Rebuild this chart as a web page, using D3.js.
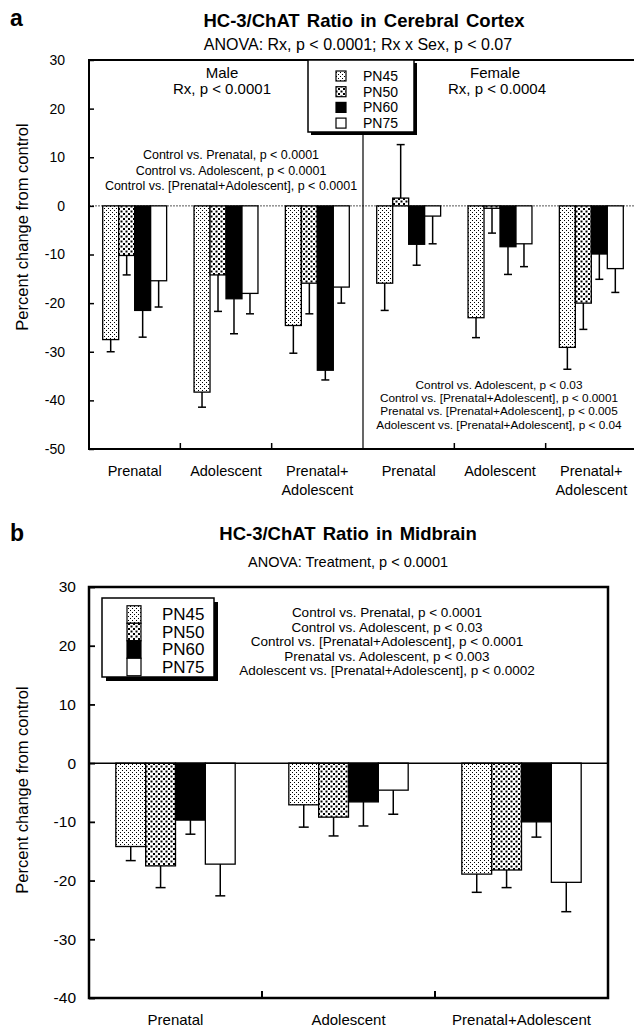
<!DOCTYPE html>
<html>
<head>
<meta charset="utf-8">
<script src="https://cdn.jsdelivr.net/npm/d3@7"></script>
<style>
body { margin: 0; background: #fff; }
text { font-family: "Liberation Sans", Arial, Helvetica, sans-serif; fill: #000; }
</style>
</head>
<body>
<div id="chart"></div>
<script>
// Data (percent change from control)
var series = ["PN45", "PN50", "PN60", "PN75"];
var treatments = ["Prenatal", "Adolescent", "Prenatal+Adolescent"];
var sexes = ["Male", "Female"];

// rows = treatment, columns = series
var cortexMale = [[-27.5, -10.2, -21.5, -15.4], [-38.3, -14.2, -19.1, -18.0], [-24.6, -15.9, -33.8, -16.7]];
var cortexMaleErr = [[2.5, 4.0, 5.5, 5.4], [3.1, 7.5, 7.2, 4.2], [5.7, 6.3, 2.0, 3.3]];
var cortexFemale = [[-15.9, 1.6, -7.9, -2.1], [-23.0, -0.5, -8.4, -7.8], [-29.1, -20.0, -9.9, -12.9]];
var cortexFemaleErr = [[5.6, 11.0, 4.3, 5.7], [4.1, 5.1, 5.7, 4.7], [4.5, 5.4, 5.2, 4.9]];

var midbrain = [[-14.2, -17.5, -9.7, -17.2], [-7.1, -9.2, -6.6, -4.6], [-18.9, -18.2, -10.0, -20.3]];
var midbrainErr = [[2.4, 3.7, 2.4, 5.4], [3.8, 3.2, 4.1, 4.1], [3.1, 3.0, 2.6, 5.0]];

var ticksA = [30, 20, 10, 0, -10, -20, -30, -40, -50];
var ticksB = [30, 20, 10, 0, -10, -20, -30, -40];

var statsMale = ["Control vs. Prenatal, p < 0.0001", "Control vs. Adolescent, p < 0.0001", "Control vs. [Prenatal+Adolescent], p < 0.0001"];
var statsFemale = ["Control vs. Adolescent, p < 0.03", "Control vs. [Prenatal+Adolescent], p < 0.0001", "Prenatal vs. [Prenatal+Adolescent], p < 0.005", "Adolescent vs. [Prenatal+Adolescent], p < 0.04"];
var statsMid = ["Control vs. Prenatal, p < 0.0001", "Control vs. Adolescent, p < 0.03", "Control vs. [Prenatal+Adolescent], p < 0.0001", "Prenatal vs. Adolescent, p < 0.003", "Adolescent vs. [Prenatal+Adolescent], p < 0.0002"];

var svg = d3.select("#chart").append("svg")
  .attr("width", 634)
  .attr("height", 1029);

// fill patterns
var defs = svg.append("defs");
var p45 = defs.append("pattern").attr("id", "pn45").attr("patternUnits", "userSpaceOnUse")
  .attr("width", 4).attr("height", 4);
p45.append("rect").attr("width", 4).attr("height", 4).attr("fill", "#fff");
p45.append("rect").attr("x", 0).attr("y", 0).attr("width", 1).attr("height", 1).attr("fill", "#000");
p45.append("rect").attr("x", 2).attr("y", 2).attr("width", 1).attr("height", 1).attr("fill", "#000");

var p50 = defs.append("pattern").attr("id", "pn50").attr("patternUnits", "userSpaceOnUse")
  .attr("width", 5).attr("height", 5);
p50.append("rect").attr("width", 5).attr("height", 5).attr("fill", "#fff");
p50.append("rect").attr("x", 0.5).attr("y", 0.5).attr("width", 2).attr("height", 2).attr("fill", "#000");
p50.append("rect").attr("x", 3).attr("y", 3).attr("width", 2).attr("height", 2).attr("fill", "#000");

var fillFor = {PN45: "url(#pn45)", PN50: "url(#pn50)", PN60: "#000", PN75: "#fff"};

function drawBars(g, data, x0, x1, y, capW) {
  g.append("g").selectAll("rect")
    .data(data)
    .enter()
    .append("rect")
    .attr("x", d => x0(d.key) + x1(d.series))
    .attr("width", x1.bandwidth())
    .attr("y", d => y(Math.max(0, d.value)))
    .attr("height", d => Math.abs(y(d.value) - y(0)))
    .attr("fill", d => fillFor[d.series])
    .attr("stroke", "#000")
    .attr("stroke-width", 1.3);

  var err = g.append("g").selectAll("g")
    .data(data)
    .enter()
    .append("g")
    .attr("stroke", "#000")
    .attr("stroke-width", 1.5);
  err.append("line")
    .attr("x1", d => x0(d.key) + x1(d.series) + x1.bandwidth() / 2)
    .attr("x2", d => x0(d.key) + x1(d.series) + x1.bandwidth() / 2)
    .attr("y1", d => y(d.value))
    .attr("y2", d => y(d.value + (d.value < 0 ? -d.err : d.err)));
  err.append("line")
    .attr("x1", d => x0(d.key) + x1(d.series) + x1.bandwidth() / 2 - capW / 2)
    .attr("x2", d => x0(d.key) + x1(d.series) + x1.bandwidth() / 2 + capW / 2)
    .attr("y1", d => y(d.value + (d.value < 0 ? -d.err : d.err)))
    .attr("y2", d => y(d.value + (d.value < 0 ? -d.err : d.err)));
}

function drawLegend(g, x, y, w, h, shadow, sw, sh, swX, labX, rowH, fontSize, stacked) {
  g.append("rect").attr("x", x + shadow).attr("y", y + shadow).attr("width", w).attr("height", h).attr("fill", "#000");
  g.append("rect").attr("x", x).attr("y", y).attr("width", w).attr("height", h)
    .attr("fill", "#fff").attr("stroke", "#000").attr("stroke-width", 1.5);
  series.forEach(function(s, i) {
    var cy = y + rowH[0] + i * rowH[1];
    g.append("rect")
      .attr("x", swX).attr("y", stacked ? cy - rowH[1] / 2 : cy - sh / 2)
      .attr("width", sw).attr("height", stacked ? rowH[1] : sh)
      .attr("fill", fillFor[s]).attr("stroke", "#000").attr("stroke-width", 1.2);
    g.append("text").attr("x", labX).attr("y", cy).attr("dy", "0.35em")
      .attr("font-size", fontSize).text(s);
  });
}

// ---------- Panel a: Cerebral Cortex ----------
var gA = svg.append("g");
var keysA = [];
sexes.forEach(s => treatments.forEach(t => keysA.push(s + "|" + t)));

var yA = d3.scaleLinear().domain([-50, 30]).range([449, 60]);
var xA = d3.scaleBand().domain(keysA).range([89, 637]).paddingInner(0.3).paddingOuter(0.15);
var xsA = d3.scaleBand().domain(series).range([0, xA.bandwidth()]);

var dataA = [];
treatments.forEach(function(t, i) {
  series.forEach(function(s, j) {
    dataA.push({key: "Male|" + t, series: s, value: cortexMale[i][j], err: cortexMaleErr[i][j]});
    dataA.push({key: "Female|" + t, series: s, value: cortexFemale[i][j], err: cortexFemaleErr[i][j]});
  });
});

gA.append("text").attr("x", 10).attr("y", 26).attr("font-size", 23).attr("font-weight", "bold").text("a");
gA.append("text").attr("x", 364).attr("y", 27).attr("text-anchor", "middle")
  .attr("font-size", 18.5).attr("font-weight", "bold").attr("word-spacing", 2)
  .text("HC-3/ChAT Ratio in Cerebral Cortex");
gA.append("text").attr("x", 358).attr("y", 50).attr("text-anchor", "middle")
  .attr("font-size", 16).text("ANOVA: Rx, p < 0.0001; Rx x Sex, p < 0.07");

// zero line
gA.append("line").attr("x1", 89).attr("x2", 637).attr("y1", yA(0)).attr("y2", yA(0))
  .attr("stroke", "#555").attr("stroke-width", 1).attr("stroke-dasharray", "2,1");

drawBars(gA, dataA, xA, xsA, yA, 8);

// divider between sexes
var divX = xA("Female|Prenatal") - xA.step() * 0.15;
gA.append("line").attr("x1", divX).attr("x2", divX).attr("y1", 60).attr("y2", 449)
  .attr("stroke", "#000").attr("stroke-width", 1.2);

// frame
gA.append("rect").attr("x", 89).attr("y", 60).attr("width", 548).attr("height", 389)
  .attr("fill", "none").attr("stroke", "#000").attr("stroke-width", 2);

// y axis
var axA = gA.append("g").attr("transform", "translate(89,0)")
  .call(d3.axisLeft(yA).tickValues(ticksA).tickSize(-5).tickPadding(24).tickFormat(d => String(d)));
axA.select(".domain").remove();
axA.selectAll("line").attr("stroke-width", 1.5);
axA.selectAll("text").attr("font-size", 14).attr("font-family", null);

// bottom ticks between groups
[1, 2, 4, 5].forEach(function(i) {
  var bx = xA(keysA[i]) - xA.step() * 0.15;
  gA.append("line").attr("x1", bx).attr("x2", bx).attr("y1", 449).attr("y2", 443)
    .attr("stroke", "#000").attr("stroke-width", 1.5);
});

// x labels
keysA.forEach(function(k) {
  var t = k.split("|")[1];
  var lines = t === "Prenatal+Adolescent" ? ["Prenatal+", "Adolescent"] : [t];
  var txt = gA.append("text").attr("x", xA(k) + xA.bandwidth() / 2).attr("y", 476)
    .attr("text-anchor", "middle").attr("font-size", 14.5);
  lines.forEach(function(l, i) {
    txt.append("tspan").attr("x", xA(k) + xA.bandwidth() / 2).attr("dy", i ? 19 : 0).text(l);
  });
});

gA.append("text").attr("transform", "translate(28,227) rotate(-90)").attr("text-anchor", "middle")
  .attr("font-size", 16.5).text("Percent change from control");

// annotations
gA.append("text").attr("x", 222).attr("y", 78).attr("text-anchor", "middle").attr("font-size", 15).text("Male");
gA.append("text").attr("x", 222).attr("y", 94).attr("text-anchor", "middle").attr("font-size", 15).text("Rx, p < 0.0001");
gA.append("text").attr("x", 495).attr("y", 78).attr("text-anchor", "middle").attr("font-size", 15).text("Female");
gA.append("text").attr("x", 497).attr("y", 94).attr("text-anchor", "middle").attr("font-size", 15).text("Rx, p < 0.0004");
statsMale.forEach(function(s, i) {
  gA.append("text").attr("x", 231).attr("y", 159 + i * 15.5).attr("text-anchor", "middle")
    .attr("font-size", 12.5).text(s);
});
statsFemale.forEach(function(s, i) {
  gA.append("text").attr("x", 499).attr("y", 389 + i * 13.2).attr("text-anchor", "middle")
    .attr("font-size", 11.8).text(s);
});

drawLegend(gA, 308, 60, 106, 72, 3, 10, 10, 336, 363, [16, 15.7], 14, false);

// ---------- Panel b: Midbrain ----------
var gB = svg.append("g");
var yB = d3.scaleLinear().domain([-40, 30]).range([998, 587]);
var xB = d3.scaleBand().domain(treatments).range([89, 608]).paddingInner(0.31).paddingOuter(0.155);
var xsB = d3.scaleBand().domain(series).range([0, xB.bandwidth()]);

var dataB = [];
treatments.forEach(function(t, i) {
  series.forEach(function(s, j) {
    dataB.push({key: t, series: s, value: midbrain[i][j], err: midbrainErr[i][j]});
  });
});

gB.append("text").attr("x", 10).attr("y", 541).attr("font-size", 23).attr("font-weight", "bold").text("b");
gB.append("text").attr("x", 348).attr("y", 540).attr("text-anchor", "middle")
  .attr("font-size", 18.5).attr("font-weight", "bold").attr("word-spacing", 2)
  .text("HC-3/ChAT Ratio in Midbrain");
gB.append("text").attr("x", 348).attr("y", 567).attr("text-anchor", "middle")
  .attr("font-size", 14.5).text("ANOVA: Treatment, p < 0.0001");

drawBars(gB, dataB, xB, xsB, yB, 10);

gB.append("line").attr("x1", 89).attr("x2", 608).attr("y1", yB(0)).attr("y2", yB(0))
  .attr("stroke", "#000").attr("stroke-width", 1.5);

gB.append("rect").attr("x", 89).attr("y", 587).attr("width", 519).attr("height", 411)
  .attr("fill", "none").attr("stroke", "#000").attr("stroke-width", 2.5);

var axB = gB.append("g").attr("transform", "translate(89,0)")
  .call(d3.axisLeft(yB).tickValues(ticksB).tickSize(-6).tickPadding(13).tickFormat(d => String(d)));
axB.select(".domain").remove();
axB.selectAll("line").attr("stroke-width", 1.8);
axB.selectAll("text").attr("font-size", 15.5).attr("font-family", null);

[1, 2].forEach(function(i) {
  var bx = xB(treatments[i]) - xB.step() * 0.155;
  gB.append("line").attr("x1", bx).attr("x2", bx).attr("y1", 998).attr("y2", 991)
    .attr("stroke", "#000").attr("stroke-width", 2);
});

treatments.forEach(function(t) {
  gB.append("text").attr("x", xB(t) + xB.bandwidth() / 2).attr("y", 1025)
    .attr("text-anchor", "middle").attr("font-size", 15).text(t);
});

gB.append("text").attr("transform", "translate(28,790) rotate(-90)").attr("text-anchor", "middle")
  .attr("font-size", 16.5).text("Percent change from control");

statsMid.forEach(function(s, i) {
  gB.append("text").attr("x", 387).attr("y", 617 + i * 14.5).attr("text-anchor", "middle")
    .attr("font-size", 13.5).text(s);
});

drawLegend(gB, 102, 598, 112, 79, 4, 14, 14, 127, 162, [16.5, 17.5], 17, true);
</script>
</body>
</html>
